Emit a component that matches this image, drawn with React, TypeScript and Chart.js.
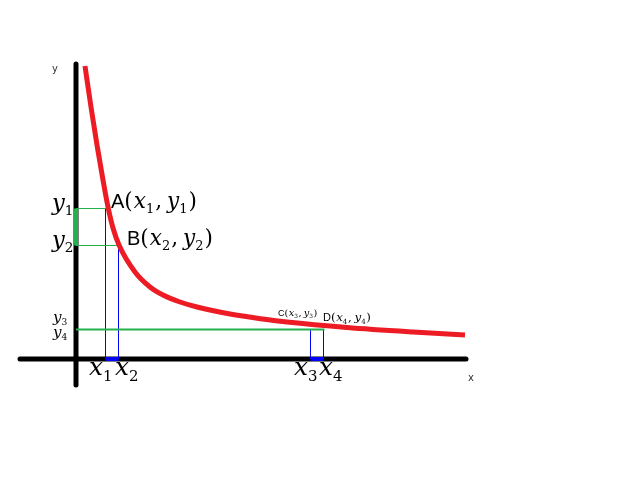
import React, { useEffect, useRef } from "react";
import { Chart, registerables } from "chart.js";

Chart.register(...registerables);

// Curve y = f(x) (10 px per unit, origin at the axes' crossing)
const curveX = [0.9, 1.5, 2.1, 2.7, 3.2, 3.7, 4.3, 5.9, 7.4, 8.7, 10.4, 12.1, 15.4, 18.7, 21.1, 27.1, 33.7, 38.9];
const curveY = [29.3, 25.2, 21.4, 17.9, 15.2, 13.1, 11.4, 8.7, 7.2, 6.4, 5.7, 5.2, 4.5, 4.0, 3.7, 3.15, 2.7, 2.4];

// Marked points
const x1 = 2.95, y1 = 15.05;
const x2 = 4.25, y2 = 11.35;
const x3 = 23.45, x4 = 24.75;
const y34 = 2.95;

// Axis extents
const axisXRange = [-5.6, 39.0];
const axisYRange = [-2.6, 29.5];

// Axis names
const axisNames = ["y", "x"];
const axisNameX = [-2.4, 39.2];
const axisNameY = [28.7, -2.2];

// Math labels
const labelText = ["y_1", "y_2", "A(x_1, y_1)", "B(x_2, y_2)", "y_3", "y_4", "x_1", "x_2", "x_3", "x_4", "C(x_3, y_3)", "D(x_4, y_4)"];
const labelX = [-2.4, -2.4, 3.5, 5.1, -2.3, -2.3, 1.3, 3.9, 21.8, 24.3, 20.2, 24.7];
const labelY = [14.9, 11.2, 15.1, 11.4, 3.7, 2.2, -1.6, -1.6, -1.6, -1.6, 4.3, 3.8];
const labelSize = [21, 21, 20, 20, 14, 14, 23, 23, 23, 23, 9, 11];

const RED = "#ed1c24";
const GREEN = "#22b14c";
const BLUE = "#0000ff";

function seg(ax: number, ay: number, bx: number, by: number) {
  return [{ x: ax, y: ay }, { x: bx, y: by }];
}

function lineDs(data: any[], color: string, width: number, order: number, cap: CanvasLineCap = "butt") {
  return {
    data,
    showLine: true,
    borderColor: color,
    backgroundColor: color,
    borderWidth: width,
    pointRadius: 0,
    borderCapStyle: cap,
    order,
  };
}

function drawRich(ctx: CanvasRenderingContext2D, text: string, x: number, y: number, size: number) {
  let cx = x;
  ctx.textBaseline = "alphabetic";
  ctx.textAlign = "left";
  for (let i = 0; i < text.length; i++) {
    const ch = text[i];
    if (ch === "_") {
      const d = text[++i];
      ctx.font = `${size * 0.65}px "DejaVu Serif"`;
      ctx.fillText(d, cx, y + size * 0.24);
      cx += ctx.measureText(d).width + size * 0.05;
    } else if (ch === "x" || ch === "y") {
      ctx.font = `italic ${size * 1.08}px "DejaVu Serif"`;
      ctx.fillText(ch, cx, y);
      cx += ctx.measureText(ch).width;
    } else if (ch === "(" || ch === ")" || ch === ",") {
      ctx.font = `${size * 1.08}px "DejaVu Serif"`;
      ctx.fillText(ch, cx, y);
      cx += ctx.measureText(ch).width + size * 0.05;
    } else if (ch === " ") {
      cx += size * 0.2;
    } else {
      ctx.font = `${size}px "Liberation Sans"`;
      ctx.fillText(ch, cx, y);
      cx += ctx.measureText(ch).width;
    }
  }
}

const labelPlugin = {
  id: "mathLabels",
  afterDatasetsDraw(chart: any) {
    const ctx: CanvasRenderingContext2D = chart.ctx;
    const sx = chart.scales.x;
    const sy = chart.scales.y;
    ctx.save();
    axisNames.forEach((t, i) => {
      ctx.font = '10px "DejaVu Sans"';
      ctx.fillStyle = "#333";
      ctx.fillText(t, sx.getPixelForValue(axisNameX[i]), sy.getPixelForValue(axisNameY[i]));
    });
    ctx.fillStyle = "#000";
    labelText.forEach((t, i) => {
      drawRich(ctx, t, sx.getPixelForValue(labelX[i]), sy.getPixelForValue(labelY[i]), labelSize[i]);
    });
    ctx.restore();
  },
};

export default function App() {
  const ref = useRef<HTMLCanvasElement | null>(null);
  useEffect(() => {
    if (!ref.current) return;
    const curve = curveX.map((x, i) => ({ x, y: curveY[i] }));
    const chart = new Chart(ref.current, {
      type: "scatter",
      data: {
        datasets: [
          { ...lineDs(curve, RED, 5, 0, "butt"), cubicInterpolationMode: "monotone" } as any,
          lineDs(seg(0, y1, 0, y2), GREEN, 4, 1),
          lineDs(seg(x1, 0, x2, 0), BLUE, 4, 1),
          lineDs(seg(x3, 0, x4, 0), BLUE, 4, 1),
          lineDs(seg(0, y1, x1 + 0.1, y1), GREEN, 1, 2),
          lineDs(seg(0, y2, x2, y2), GREEN, 1, 2),
          lineDs(seg(0, y34, x4 + 0.1, y34), GREEN, 2, 2),
          lineDs(seg(x1, y1, x1, 0), BLUE, 1, 2),
          lineDs(seg(x2, y2, x2, 0), BLUE, 1, 2),
          lineDs(seg(x3, y34, x3, 0), BLUE, 1, 2),
          lineDs(seg(x4, y34, x4, 0), BLUE, 1, 2),
          lineDs(seg(0, axisYRange[1], 0, axisYRange[0]), "#000", 5, 3, "round"),
          lineDs(seg(axisXRange[0], 0, axisXRange[1], 0), "#000", 5, 3, "round"),
        ],
      },
      options: {
        animation: false,
        responsive: false,
        events: [],
        layout: { padding: 0 },
        plugins: { legend: { display: false }, tooltip: { enabled: false } },
        scales: {
          x: { type: "linear", display: false, min: -7.6, max: 56.4 },
          y: { type: "linear", display: false, min: -12.1, max: 35.9 },
        },
      },
      plugins: [labelPlugin],
    });
    return () => chart.destroy();
  }, []);
  return (
    <div style={{ position: "absolute", left: 0, top: 0, width: 640, height: 480, background: "#fff" }}>
      <canvas ref={ref} width={640} height={480} />
    </div>
  );
}
